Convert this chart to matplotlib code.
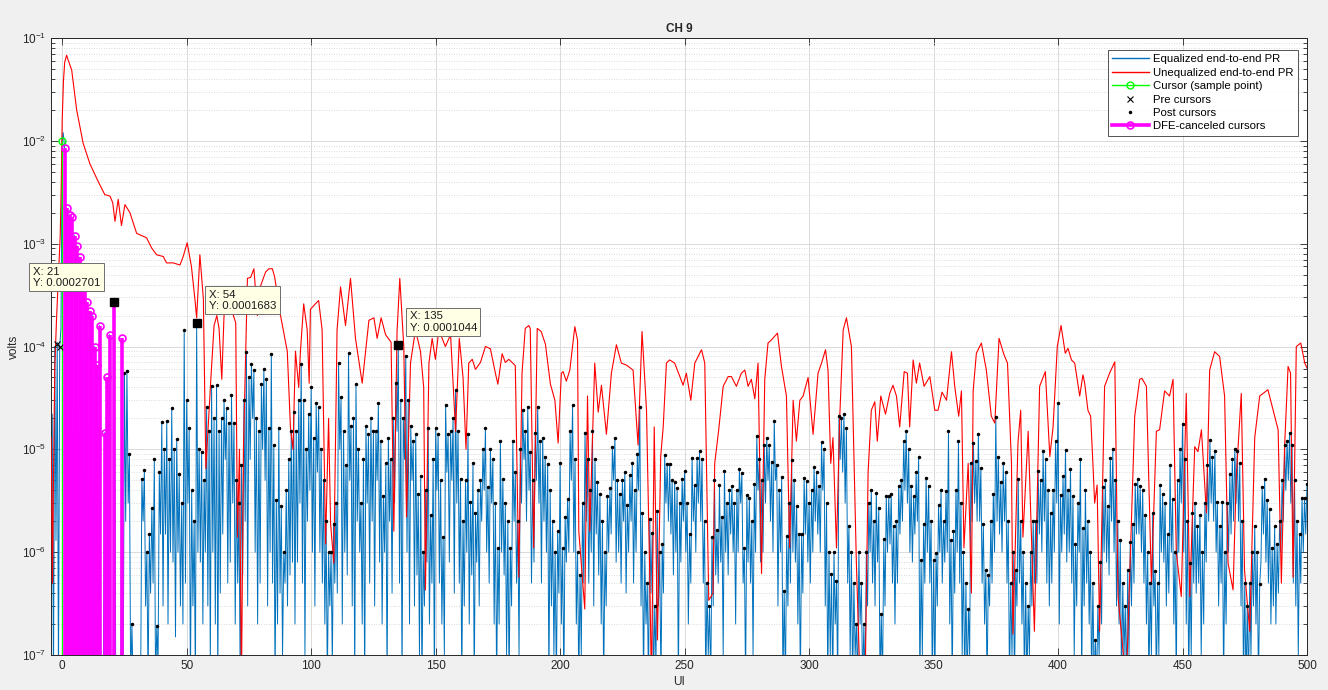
import matplotlib
matplotlib.use('Agg')
import matplotlib.pyplot as plt
from matplotlib.lines import Line2D
from matplotlib.ticker import LogLocator, NullLocator, FixedLocator

plt.rcParams['font.family'] = ['Liberation Sans', 'DejaVu Sans']
plt.rcParams['mathtext.default'] = 'regular'

# ---------------- data ----------------
title = 'CH 9'
legend_labels = ['Equalized end-to-end PR', 'Unequalized end-to-end PR',
                 'Cursor (sample point)', 'Pre cursors', 'Post cursors',
                 'DFE-canceled cursors']

# Unequalized pulse response (red), UI positions and volts
red_ui = [-4.5, -4.2, -3.9, -3.5, -3.0, -2.3, -1.7, -1.3, -0.8, -0.4,
          0.0, 0.5, 1.0, 1.76, 2.5, 3.8, 5.8, 8.4, 11.1, 14.5,
          17.1, 19.2, 20.3, 21.2, 22.5, 23.8, 25.2, 27.2, 29.9, 33.9,
          35.9, 37.9, 40.6, 41.9, 44.6, 47.3, 48.6, 50.2, 51.9, 53.3,
          54.0, 55.3, 56.7, 57.7, 59.7, 61.0, 62.1, 63.0, 64.1, 65.0,
          66.4, 67.7, 69.7, 70.4, 71.2, 72.0, 72.8, 73.7, 74.4, 75.7,
          77.0, 78.4, 79.7, 81.7, 83.0, 84.4, 85.3, 87.7, 90.4, 91.7,
          92.7, 93.7, 95.0, 95.7, 97.0, 98.4, 99.2, 99.7, 101.7, 103.0,
          104.4, 105.8, 107.0, 107.8, 109.1, 110.4, 111.8, 113.8, 115.8, 117.8,
          120.5, 123.2, 125.2, 126.5, 128.1, 129.9, 132.1, 133.2, 134.5, 135.6,
          137.2, 138.3, 139.9, 141.9, 143.9, 145.2, 145.9, 147.3, 148.6, 149.9,
          151.3, 152.6, 153.9, 156.0, 158.0, 159.5, 161.0, 162.2, 163.3, 164.7,
          166.0, 168.0, 170.0, 172.0, 174.0, 175.0, 176.7, 178.0, 179.4, 180.7,
          182.0, 183.4, 184.7, 186.0, 187.4, 188.0, 189.4, 190.8, 192.4, 194.1,
          196.1, 197.9, 199.2, 200.5, 201.2, 202.5, 203.9, 205.9, 207.0, 207.5,
          209.9, 211.0, 211.9, 213.9, 215.3, 216.6, 218.6, 220.6, 222.6, 224.6,
          226.6, 229.3, 231.3, 232.9, 234.7, 236.0, 236.7, 237.8, 239.1, 240.4,
          241.4, 242.7, 244.0, 246.0, 248.1, 249.4, 250.7, 252.5, 254.1, 256.8,
          258.1, 259.7, 261.4, 262.1, 263.7, 265.5, 267.5, 268.8, 270.8, 272.8,
          274.2, 275.5, 276.8, 278.2, 279.5, 280.9, 282.2, 283.5, 284.9, 287.3,
          288.9, 290.9, 292.2, 293.6, 294.9, 296.3, 297.6, 299.6, 301.6, 303.6,
          305.0, 306.6, 307.6, 308.7, 309.6, 311.0, 312.3, 313.7, 315.0, 317.0,
          319.0, 320.5, 322.5, 323.7, 325.0, 326.4, 327.4, 328.8, 330.7, 332.4,
          333.7, 335.1, 336.4, 338.2, 339.5, 340.4, 341.8, 343.1, 344.4, 346.2,
          348.5, 350.5, 351.8, 353.4, 355.2, 357.2, 358.5, 360.1, 361.2, 362.2,
          363.9, 365.2, 365.9, 367.2, 369.2, 371.2, 373.2, 374.6, 376.3, 378.3,
          379.7, 381.3, 381.9, 383.9, 385.0, 385.9, 388.0, 390.5, 392.6, 394.9,
          396.7, 398.0, 399.7, 401.2, 402.9, 404.0, 405.4, 406.7, 408.7, 410.0,
          410.7, 412.0, 413.1, 414.0, 414.7, 415.7, 416.7, 418.7, 420.7, 422.8,
          424.1, 427.4, 430.8, 432.8, 433.7, 435.5, 437.5, 439.5, 440.8, 442.8,
          444.8, 446.2, 447.5, 449.5, 451.5, 452.9, 454.9, 456.2, 457.6, 459.6,
          460.9, 462.9, 464.9, 466.9, 468.3, 470.3, 471.6, 473.6, 474.9, 477.0,
          479.0, 481.0, 484.3, 487.0, 488.4, 489.7, 491.0, 492.4, 493.4, 494.4,
          495.7, 497.5, 499.1, 500.4]
red_v = [1.3e-5, 4e-6, 5e-7, 5e-6, 6e-5, 1.8e-4, 3.9e-4, 6.9e-4, 1.2e-3, 3.6e-3,
         1.6e-2, 3.8e-2, 5.8e-2, 6.8e-2, 6.0e-2, 4.9e-2, 2.0e-2, 9.5e-3, 6.0e-3, 4.0e-3,
         3.0e-3, 2.9e-3, 2.5e-3, 1.65e-3, 2.7e-3, 1.5e-3, 2.4e-3, 2.0e-3, 1.26e-3, 1.14e-3,
         9.1e-4, 7.8e-4, 7.5e-4, 6.5e-4, 6.5e-4, 6.2e-4, 7.5e-4, 1.02e-3, 6.0e-4, 2.9e-4,
         1.9e-4, 7.8e-4, 2.9e-4, 6.5e-6, 4.8e-5, 1.6e-4, 2.0e-4, 1.5e-4, 4.8e-5, 2.0e-4,
         3.3e-4, 2.4e-4, 1.7e-4, 1.4e-6, 1.0e-5, 5e-8, 1.0e-5, 9.0e-5, 4.6e-4, 4.7e-4,
         5.7e-4, 2.0e-4, 3.9e-4, 5.3e-4, 5.7e-4, 5.7e-4, 4.8e-4, 2.0e-4, 9.0e-5, 1.6e-5,
         1.0e-5, 9.0e-5, 4.0e-5, 9.0e-5, 2.6e-4, 1.45e-4, 4.4e-5, 2.3e-4, 2.6e-4, 2.8e-4,
         1.45e-4, 1.2e-6, 2.0e-5, 1.9e-6, 7.8e-7, 1.45e-4, 3.8e-4, 1.6e-4, 4.6e-4, 1.2e-4,
         4.4e-5, 1.8e-4, 1.9e-4, 1.2e-4, 1.9e-4, 1.3e-4, 1.1e-4, 1.6e-6, 1.4e-4, 4.6e-4,
         1.0e-4, 2.2e-6, 6.9e-5, 1.45e-4, 9.0e-5, 4.0e-5, 4.3e-7, 6.9e-5, 1.2e-4, 7.5e-5,
         1.45e-4, 1.2e-4, 1.0e-4, 1.3e-4, 1.5e-5, 1.2e-4, 5.0e-5, 1.0e-5, 6.9e-5, 7.5e-5,
         6.0e-5, 7.0e-5, 1.0e-4, 9.5e-5, 5.5e-5, 4.3e-5, 8.5e-5, 7.0e-5, 7.5e-5, 7.0e-5,
         6.5e-5, 5.7e-7, 5.5e-5, 1.5e-4, 1.6e-4, 1.5e-4, 1.1e-6, 1.5e-4, 1.4e-4, 1.05e-4,
         4.3e-5, 3.0e-5, 1.15e-5, 5.5e-5, 5.7e-5, 4.6e-5, 5.9e-5, 1.56e-4, 1.15e-4, 1.6e-6,
         2.8e-7, 3.3e-5, 1.6e-6, 6.9e-5, 2.3e-5, 4.2e-5, 1.4e-5, 5.5e-5, 1.04e-4, 6.9e-5,
         6.6e-5, 5.9e-5, 1.1e-5, 1.4e-4, 2.4e-5, 5.8e-7, 5e-8, 1.65e-5, 1.4e-7, 8.5e-6,
         1.65e-5, 6.9e-5, 7.4e-5, 6.9e-5, 5.1e-5, 4.2e-5, 5.5e-5, 3.0e-5, 6.9e-5, 9.3e-5,
         6.9e-5, 3.4e-7, 4.0e-7, 7.3e-6, 1.55e-5, 4.1e-5, 5.1e-5, 5.1e-5, 4.1e-5, 5.5e-5,
         5.9e-5, 4.1e-5, 4.8e-5, 3.1e-5, 6.9e-5, 6.2e-7, 4.8e-5, 1.08e-4, 1.16e-4, 1.35e-4,
         6.4e-5, 3.3e-5, 1.1e-6, 3.0e-5, 1.2e-5, 3.0e-5, 3.3e-5, 5.0e-5, 1.4e-5, 5.5e-5,
         6.9e-5, 9.3e-5, 5.9e-5, 7.3e-6, 1.3e-5, 1.1e-6, 2.0e-5, 1.45e-4, 1.9e-4, 1.0e-4,
         7.8e-7, 5e-8, 5e-8, 5.9e-6, 2.4e-5, 2.9e-5, 1.2e-5, 3.3e-5, 2.2e-5, 3.5e-5,
         4.2e-5, 3.3e-5, 1.65e-5, 5.7e-5, 5.5e-5, 1.65e-5, 7.4e-5, 4.4e-5, 6.9e-5, 4.1e-5,
         5.1e-5, 2.4e-5, 2.4e-5, 3.6e-5, 3.0e-5, 8.9e-5, 4.1e-5, 2.1e-5, 3.7e-5, 1.1e-6,
         7.3e-6, 4.0e-7, 3.7e-5, 8.6e-5, 1.08e-4, 5.9e-5, 2.1e-5, 1.8e-5, 1.2e-4, 8.3e-5,
         6.9e-5, 7.3e-6, 1.6e-7, 1.15e-5, 2.4e-5, 1.4e-6, 1.5e-5, 1.7e-7, 4.1e-5, 5.7e-5,
         8.5e-6, 1.65e-5, 1.0e-4, 1.6e-4, 8.6e-5, 9.6e-5, 7.4e-5, 6.9e-5, 3.3e-5, 5.3e-5,
         4.4e-5, 2.4e-5, 2.1e-5, 7.3e-6, 3.0e-6, 4.5e-6, 1.7e-7, 4.1e-5, 5.5e-5, 7.1e-5,
         3.7e-7, 5e-8, 2.1e-5, 4.8e-5, 4.9e-5, 4.1e-5, 5.0e-7, 1.5e-5, 1.55e-5, 3.7e-5,
         3.3e-5, 4.8e-5, 1.0e-6, 3.7e-7, 3.5e-5, 3.7e-7, 1.06e-5, 9.5e-6, 1.55e-5, 2.4e-6,
         5.9e-5, 8.9e-5, 8.0e-5, 3.3e-5, 7.8e-7, 4.3e-7, 5.4e-6, 3.5e-5, 6.7e-7, 1.7e-7,
         1.3e-5, 3.3e-5, 3.8e-5, 2.1e-5, 1.55e-5, 5.0e-7, 1.06e-5, 6.4e-5, 5.5e-5, 5.7e-7,
         1.0e-4, 1.08e-4, 6.9e-5, 5.9e-5]

# Equalized pulse response (blue) before the DFE cursors
blue_early_ui = [-4.5, -4.0, -3.5, -3.0, -2.5, -2.0, -1.5, -1.0, -0.5, 0.0, 0.4, 0.7]
blue_early_v = [2e-6, 2.2e-5, 5e-8, 1.0e-4, 1.3e-6, 1.1e-4, 5e-8, 1.0e-4, 1.5e-4, 1.0e-2, 1.2e-2, 1.0e-2]

# Main cursor and pre cursors
cursor_ui = 0
cursor_v = 1.0e-2
pre_ui = [-2, -1]
pre_v = [1.05e-4, 1.0e-4]

# DFE-canceled cursors (UI 1..24)
dfe_ui = list(range(1, 25))
dfe_v = [8.5e-3, 2.2e-3, 1.9e-3, 1.8e-3, 1.2e-3, 9.5e-4, 7.4e-4, 5.5e-4, 4.0e-4, 2.7e-4,
         2.2e-4, 2.0e-4, 1.0e-4, 6.6e-5, 1.6e-4, 5e-8, 1.45e-5, 5e-5, 1.3e-4, 5e-8,
         2.701e-4, 5e-8, 5e-8, 1.2e-4]

# Post cursors (UI 25..500), equalized
post_ui = list(range(25, 501))
post_v = [5.5e-5, 5.8e-5, 9e-6, 2e-7, 5e-8, 5e-8, 5e-8, 5.2e-6, 6.3e-6, 1e-6,
          1.5e-6, 2.7e-6, 8e-6, 1.9e-7, 6e-6, 1.85e-5, 1e-5, 1.9e-5, 8e-6, 2.5e-5,
          1e-5, 1.25e-5, 5.8e-6, 3e-6, 1.45e-4, 3e-5, 1.6e-5, 4e-6, 2e-6, 1.683e-4,
          1e-5, 9.5e-6, 5e-6, 2.6e-5, 1.5e-5, 4.1e-5, 2e-5, 4.2e-5, 1.5e-5, 2e-5,
          3e-5, 2.5e-5, 1.8e-5, 3.4e-5, 1.8e-5, 5e-6, 3e-6, 7e-6, 3e-5, 8.9e-5,
          5e-5, 6.8e-5, 5.9e-5, 2e-5, 1.5e-5, 4.3e-5, 6e-5, 4.8e-5, 1.6e-5, 8.5e-5,
          1.1e-5, 3.2e-6, 1.6e-5, 2.8e-6, 1e-6, 4e-6, 8e-6, 1.5e-5, 2.3e-5, 1.5e-5,
          3e-5, 6.8e-5, 3e-5, 1e-5, 2.2e-5, 4e-5, 1.3e-5, 2.8e-5, 2.6e-5, 1e-5,
          5e-6, 2e-6, 1e-6, 1e-6, 1.9e-6, 3e-6, 6.9e-5, 3.2e-5, 1.5e-5, 7e-6,
          8.6e-5, 1.7e-5, 2e-5, 4.3e-5, 1e-5, 3e-6, 8e-6, 1.7e-5, 1.4e-5, 2e-5,
          1.5e-5, 1.5e-5, 2.8e-5, 1.2e-5, 3.5e-6, 7.3e-6, 1.3e-5, 8e-6, 2e-5, 4.4e-5,
          1.044e-4, 3e-5, 2e-5, 8.1e-5, 3e-5, 1.7e-5, 1.2e-5, 1.4e-5, 3.7e-6, 5.5e-6,
          1e-6, 4e-6, 1.6e-5, 2.3e-6, 8e-6, 1.6e-5, 1.4e-5, 5e-6, 1.4e-6, 2.7e-5,
          1.4e-5, 1.5e-5, 2e-5, 3.8e-5, 1.5e-5, 5.2e-6, 2e-6, 5e-6, 1.4e-5, 3.1e-6,
          7.3e-6, 2.4e-6, 4e-6, 5e-6, 1e-5, 1.6e-5, 4.3e-6, 1e-5, 8e-6, 3e-6,
          1.1e-6, 1.2e-5, 5.1e-6, 3e-6, 2e-6, 1.1e-6, 1.2e-5, 6e-6, 2e-6, 1e-5,
          2.4e-5, 1.5e-5, 2.6e-5, 9.5e-6, 5e-6, 1.45e-5, 2.6e-5, 1.2e-5, 1.3e-5, 8.5e-6,
          7.2e-6, 4e-6, 2e-6, 1e-6, 1.6e-6, 7.3e-6, 1.1e-6, 2.2e-6, 3.3e-6, 1.5e-5,
          2.7e-5, 8e-6, 1e-6, 6e-7, 3e-6, 1.45e-5, 8e-6, 4e-6, 1.5e-5, 8e-6,
          4.8e-6, 3.7e-6, 2e-6, 1e-6, 3.5e-6, 4.2e-6, 1.05e-5, 1.3e-5, 5e-6, 3.7e-6,
          5e-6, 6e-6, 2.9e-6, 5.6e-6, 7.3e-6, 4e-6, 9e-6, 2.6e-5, 2.4e-6, 1e-6,
          5e-7, 2.1e-6, 1.55e-6, 3e-7, 2.5e-6, 1e-6, 1.2e-6, 8.8e-6, 7.2e-6, 7.2e-6,
          5e-6, 4.8e-6, 4.2e-6, 3e-6, 5.2e-6, 6.1e-6, 3e-6, 1.5e-6, 8.3e-6, 4.5e-6,
          8.2e-6, 9.7e-6, 8e-6, 2e-6, 5e-7, 3e-7, 1.4e-6, 5e-6, 1.65e-6, 4.5e-6,
          2.2e-6, 6.2e-6, 3e-6, 4e-6, 4.4e-6, 3e-6, 4e-6, 6.4e-6, 5.9e-6, 1.1e-6,
          3.6e-6, 3.4e-6, 2e-6, 4.6e-6, 1.35e-5, 8e-6, 5e-6, 1.1e-5, 1.3e-5, 1.1e-5,
          7.5e-6, 1.9e-5, 7.1e-6, 4e-6, 5.4e-6, 4.2e-7, 1.45e-6, 3e-6, 7.8e-6, 5e-6,
          2.8e-6, 1.5e-6, 1.5e-6, 5.3e-6, 4.9e-6, 3e-6, 4e-6, 6.8e-6, 6e-6, 4.4e-6,
          1.17e-5, 1e-5, 3e-6, 1e-6, 6.2e-7, 1e-6, 5.3e-7, 2.1e-5, 2e-5, 2.2e-5,
          1.6e-5, 1.8e-6, 1e-6, 5e-7, 2e-7, 1e-6, 5e-7, 2e-7, 1e-6, 3e-6,
          4e-6, 2e-6, 3.8e-6, 2.7e-6, 2.5e-7, 1.35e-6, 3.5e-6, 3.5e-6, 3.7e-6, 1.8e-6,
          2e-6, 4.4e-6, 5e-6, 1.2e-5, 1.5e-5, 1e-5, 4.4e-6, 3.5e-6, 6e-6, 8.5e-6,
          8.3e-7, 1.9e-6, 5.3e-6, 4.4e-6, 2e-6, 8.4e-7, 9.8e-7, 2.9e-6, 4e-6, 2e-6,
          3.9e-6, 1.5e-5, 1.3e-6, 1.6e-6, 4e-6, 1.2e-5, 3e-6, 1e-6, 5e-7, 2.8e-7,
          7.4e-6, 1.15e-5, 7.7e-6, 1.4e-5, 6.6e-6, 1.9e-6, 6.7e-7, 6e-7, 2e-6, 3.7e-6,
          2.05e-5, 8.5e-6, 4.8e-6, 7.3e-6, 6e-6, 2e-6, 5e-7, 1e-6, 6.7e-7, 5.2e-6,
          2e-6, 1e-6, 5e-7, 3e-7, 1e-6, 2e-6, 2e-6, 6.2e-6, 5e-6, 9.6e-6,
          8e-6, 4e-6, 2.4e-6, 4e-6, 1.2e-5, 2.85e-5, 3.6e-6, 5.5e-6, 9.9e-6, 4e-6,
          6.4e-6, 3.5e-6, 1.2e-6, 3e-6, 8.1e-6, 1.7e-6, 4e-6, 2e-6, 1e-6, 5e-7,
          1.4e-7, 3e-7, 8e-7, 4.3e-6, 5e-6, 2.8e-6, 8.2e-6, 1e-5, 5e-6, 2e-6,
          1.3e-6, 5e-7, 3e-7, 6.7e-7, 1.25e-6, 1.9e-6, 4.6e-6, 5.2e-6, 4.4e-6, 4e-6,
          2.3e-6, 1e-6, 5e-7, 2.4e-6, 6.6e-7, 5e-7, 4.5e-6, 3.7e-6, 3e-6, 1.5e-6,
          7e-6, 3.3e-6, 1e-6, 5e-6, 1e-5, 1.77e-5, 8e-6, 2e-6, 7.8e-7, 2.4e-6,
          3e-6, 1.8e-6, 2.3e-6, 1e-6, 3e-6, 7e-6, 1.23e-5, 8.5e-6, 9.7e-6, 3.1e-6,
          1.8e-6, 3.1e-6, 1e-6, 3e-6, 5.7e-6, 8e-6, 1e-5, 9.6e-6, 7.4e-6, 2e-6,
          5e-7, 3e-7, 5e-7, 1e-6, 1.8e-6, 1e-6, 4.9e-7, 4.3e-6, 5.2e-6, 3.2e-6,
          2.6e-6, 1.1e-6, 1.8e-6, 1.2e-6, 2e-6, 5e-6, 1.1e-5, 1.2e-5, 1.45e-5, 1.1e-5,
          5e-6, 2e-6, 1.5e-6, 3.4e-6, 3.4e-6, 4.6e-6]

# Minima of the equalized response between consecutive cursors (UI k+0.5, k = 1..499)
blue_dip_v = [
    5e-8, 5e-8, 5e-8, 5e-8, 5e-8, 5e-8, 5e-8, 5e-8, 5e-8, 5e-8, 5e-8, 5e-8,
    5e-8, 5e-8, 5e-8, 5e-8, 5e-8, 5e-8, 5e-8, 5e-8, 5e-8, 5e-8, 5e-8, 5e-8,
    2e-6, 3e-6, 5e-8, 5e-8, 5e-8, 5e-8, 5e-8, 2e-6, 3e-7, 5e-8, 4e-7, 5e-7, 5e-8,
    8e-8, 1.5e-6, 3e-7, 1.5e-6, 2e-7, 1e-6, 8e-7, 1.5e-7, 1e-6, 3e-7, 2e-7, 5e-7,
    3e-6, 5e-8, 3e-7, 5e-8, 1e-6, 8e-7, 2e-7, 1e-6, 3e-7, 8e-8, 1e-6, 2e-7, 5e-8,
    4e-7, 1.5e-6, 8e-6, 5e-7, 8e-7, 3e-6, 2e-7, 5e-7, 5e-8, 6e-7, 2e-6, 3e-7,
    8e-6, 2e-5, 1e-6, 2e-7, 5e-7, 1e-5, 5e-6, 3e-7, 1e-6, 5e-7, 5e-8, 2e-7, 4e-7,
    1e-7, 5e-7, 3e-7, 6e-7, 8e-7, 2e-7, 8e-7, 3e-6, 5e-7, 1e-7, 2e-6, 4e-6,
    1e-6, 3e-7, 6e-6, 1e-6, 5e-7, 2e-7, 5e-8, 3e-7, 8e-8, 5e-7, 4e-7, 1e-5, 2e-7,
    1e-6, 6e-7, 5e-6, 3e-7, 5e-8, 2e-6, 1e-6, 2e-7, 5e-8, 3e-6, 5e-7, 2e-6,
    3e-7, 5e-6, 8e-7, 2e-7, 1e-6, 5e-8, 2e-6, 4e-7, 3e-6, 1.5e-5, 5e-7, 5e-8, 8e-6,
    1e-6, 2e-7, 5e-6, 3e-7, 6e-7, 1e-7, 5e-8, 3e-7, 8e-7, 2e-7, 5e-7, 5e-8,
    4e-6, 5e-7, 2e-7, 1e-7, 6e-6, 8e-7, 5e-6, 4e-7, 3e-6, 5e-7, 5e-8, 3e-7, 1e-6,
    2e-7, 6e-7, 5e-8, 8e-7, 3e-7, 2e-6, 4e-6, 1e-6, 5e-7, 3e-6, 2e-7, 5e-8,
    2e-7, 1e-6, 6e-7, 1e-7, 5e-8, 3e-7, 2e-6, 5e-7, 1e-7, 3e-6, 8e-6, 2e-6, 4e-6,
    5e-7, 8e-7, 5e-6, 3e-6, 5e-7, 2e-6, 1e-6, 5e-8, 3e-7, 1e-7, 5e-8, 4e-7,
    2e-7, 5e-8, 8e-7, 1e-6, 5e-6, 1e-6, 2e-7, 5e-8, 1e-7, 5e-7, 2e-6, 5e-7, 1e-6,
    3e-7, 1.5e-6, 6e-7, 2e-7, 5e-8, 3e-7, 1e-6, 1.5e-6, 5e-6, 8e-7, 1e-6, 5e-7,
    2e-6, 4e-7, 1e-6, 2e-6, 5e-7, 1e-6, 4e-6, 3e-7, 5e-8, 2e-7, 5e-8, 4e-7, 5e-8,
    8e-8, 3e-7, 5e-8, 4e-7, 3e-6, 2e-6, 1.5e-6, 6e-7, 1e-6, 5e-8, 8e-7, 2e-6,
    1e-6, 2e-7, 5e-7, 2e-6, 1e-6, 3e-6, 2e-6, 5e-7, 5e-8, 1e-7, 5e-8, 3e-7, 6e-7,
    5e-7, 8e-7, 1e-7, 1e-6, 6e-7, 1.5e-6, 1e-6, 2e-7, 1e-6, 3e-6, 5e-7, 5e-8,
    8e-7, 5e-7, 1e-7, 1e-6, 4e-6, 8e-7, 1e-6, 3e-6, 5e-6, 2e-6, 1e-6, 5e-6, 3e-7,
    1e-6, 5e-8, 5e-8, 3e-7, 5e-7, 1e-6, 8e-7, 2e-7, 5e-8, 4e-7, 1.5e-6, 8e-7,
    5e-7, 1e-6, 2e-6, 1.5e-6, 1e-6, 4e-6, 3e-7, 5e-8, 1e-7, 5e-8, 2e-7, 5e-8, 8e-6,
    6e-6, 3e-6, 5e-7, 1e-7, 5e-8, 1e-7, 5e-8, 2e-7, 5e-8, 5e-8, 3e-7, 1e-6,
    5e-7, 3e-7, 8e-7, 5e-8, 5e-8, 3e-7, 1e-6, 1.2e-6, 5e-7, 2e-7, 5e-7, 1.5e-6, 2e-6,
    4e-6, 3e-6, 1e-6, 8e-7, 1.5e-6, 2e-6, 5e-8, 1e-7, 5e-7, 1e-6, 5e-7, 5e-8,
    5e-8, 3e-7, 1e-6, 5e-7, 8e-7, 1e-6, 2e-7, 5e-8, 4e-7, 1e-6, 5e-7, 1e-7, 5e-8,
    5e-8, 1e-7, 2e-6, 3e-6, 2e-6, 2e-6, 5e-7, 2e-7, 5e-8, 3e-7, 5e-7, 1e-6,
    2e-6, 1.5e-6, 1e-6, 2e-6, 5e-7, 5e-8, 1e-7, 5e-8, 3e-7, 5e-7, 2e-7, 5e-8, 5e-8,
    1e-7, 3e-7, 5e-7, 5e-7, 1.5e-6, 1e-6, 2e-6, 5e-7, 3e-7, 5e-7, 1e-6, 3e-6,
    2e-7, 1e-6, 1.5e-6, 8e-7, 1e-6, 5e-7, 1e-7, 3e-7, 1e-6, 5e-8, 3e-7, 5e-7, 2e-7,
    5e-8, 5e-8, 5e-8, 1e-7, 2e-7, 1e-6, 8e-7, 6e-7, 2e-6, 1e-6, 3e-7, 2e-7,
    5e-8, 1e-7, 5e-8, 1e-7, 3e-7, 5e-7, 1.5e-6, 1.5e-6, 1e-6, 5e-7, 2e-7, 5e-8, 1e-7,
    3e-7, 5e-8, 1e-7, 1e-6, 8e-7, 3e-7, 4e-7, 1e-6, 2e-7, 5e-8, 1e-6, 3e-6,
    1e-6, 2e-7, 5e-8, 1e-7, 5e-7, 4e-7, 5e-7, 1e-7, 2e-7, 8e-7, 2e-6, 3e-6, 2e-6,
    1e-6, 3e-7, 5e-7, 5e-8, 2e-7, 1e-6, 1.5e-6, 2e-6, 3e-6, 2e-6, 3e-7, 5e-8,
    5e-8, 5e-8, 1e-7, 3e-7, 2e-7, 5e-8, 8e-7, 1.5e-6, 8e-7, 5e-7, 2e-7, 3e-7, 2e-7,
    4e-7, 1e-6, 2e-6, 4e-6, 5e-6, 3e-6, 5e-7, 3e-7, 1e-7, 5e-7, 1e-6, 1.5e-6]

# Data tips
tip_ui = [21, 54, 135]
tip_v = [2.701e-4, 1.683e-4, 1.044e-4]
tip_offsets = [(-34.5, 18), (33, 16.6), (32.4, 16.2)]

# ---------------- figure ----------------
W, H = 1328, 690
fig = plt.figure(figsize=(W / 100, H / 100), dpi=100, facecolor='#F0F0F0')
ax = fig.add_axes([51 / W, 35 / H, (1307 - 51) / W, (655 - 38) / H])
ax.set_facecolor('white')

c_blue = '#0072BD'
c_red = '#FF0000'
c_green = '#00FF00'
c_mag = '#FF00FF'

# assemble the equalized waveform: early part, then cursor values and minima between them
main_ui = dfe_ui + post_ui
main_v = dfe_v + post_v
bx = list(blue_early_ui)
by = list(blue_early_v)
for i in range(len(main_ui)):
    bx.append(main_ui[i])
    by.append(main_v[i])
    if i < len(blue_dip_v):
        bx.append(main_ui[i] + 0.5)
        by.append(blue_dip_v[i])

ax.plot(bx, by, color=c_blue, lw=0.7, zorder=2)
ax.plot(red_ui, red_v, color=c_red, lw=0.8, zorder=3)
ax.plot([cursor_ui, cursor_ui], [1e-9, cursor_v], color=c_green, lw=1.0, zorder=4)
ax.plot([cursor_ui], [cursor_v], 'o', mfc='none', mec=c_green, ms=5, mew=1.0, zorder=4)
ax.plot(pre_ui, pre_v, 'x', color='k', ms=5, mew=0.8, ls='none', zorder=5)
ax.plot(post_ui, post_v, '.', color='k', ms=3, ls='none', zorder=5)
ax.vlines(dfe_ui, 1e-9, dfe_v, color=c_mag, lw=2.6, zorder=6)
ax.plot(dfe_ui, dfe_v, 'o', mfc='none', mec=c_mag, ms=5, mew=1.2, ls='none', zorder=6)

for x, y, off in zip(tip_ui, tip_v, tip_offsets):
    ax.plot([x], [y], 's', color='k', ms=6, zorder=8)
    ax.annotate('X: %d\nY: %.7f' % (x, y), xy=(x, y), xytext=off,
                textcoords='offset points', ha='center', va='center',
                multialignment='left', linespacing=1.15,
                fontsize=8.2, color='#1a1a1a', zorder=9,
                bbox=dict(boxstyle='square,pad=0.3', fc='#FFFFE6', ec='#6e6e6e', lw=0.7))

ax.set_yscale('log')
ax.set_ylim(1e-7, 1e-1)
ax.set_xlim(-4.5, 500)
ax.xaxis.set_major_locator(FixedLocator(list(range(0, 501, 50))))
ax.xaxis.set_minor_locator(NullLocator())
ax.yaxis.set_major_locator(LogLocator(base=10, numticks=10))
ax.yaxis.set_minor_locator(LogLocator(base=10, subs=[2, 3, 4, 5, 6, 7, 8, 9], numticks=20))

ax.tick_params(which='both', direction='in', top=True, right=True, colors='#262626',
               labelsize=8.5, width=0.6)
ax.tick_params(which='major', length=5)
ax.tick_params(which='minor', length=3)
for s in ax.spines.values():
    s.set_color('#262626')
    s.set_linewidth(0.7)

ax.grid(True, which='major', color='#DADADA', lw=0.7, ls='-')
ax.grid(True, which='minor', axis='y', color='#CFCFCF', lw=0.6, ls=(0, (1, 2)))
ax.set_axisbelow(True)

ax.set_title(title, fontsize=8.5, fontweight='bold', color='#262626', pad=4)
ax.set_xlabel('UI', fontsize=8.5, color='#262626', labelpad=3)
ax.set_ylabel('volts', fontsize=8.5, color='#262626', labelpad=1)

handles = [
    Line2D([], [], color=c_blue, lw=1.0),
    Line2D([], [], color=c_red, lw=1.0),
    Line2D([], [], color=c_green, lw=1.0, marker='o', mfc='none', mec=c_green, ms=5),
    Line2D([], [], color='k', ls='none', marker='x', ms=5, mew=0.8),
    Line2D([], [], color='k', ls='none', marker='.', ms=3),
    Line2D([], [], color=c_mag, lw=2.6, marker='o', mfc='none', mec=c_mag, ms=5, mew=1.2),
]
leg = ax.legend(handles, legend_labels, loc='upper right', bbox_to_anchor=(0.993, 0.981),
                borderaxespad=0, fontsize=8.2, frameon=True, fancybox=False,
                edgecolor='#262626', handlelength=3.2, labelspacing=0.3,
                borderpad=0.4, numpoints=1, handletextpad=0.4)
leg.get_frame().set_linewidth(0.7)
leg.set_zorder(10)

fig.savefig('out.png', dpi=100, facecolor=fig.get_facecolor())
